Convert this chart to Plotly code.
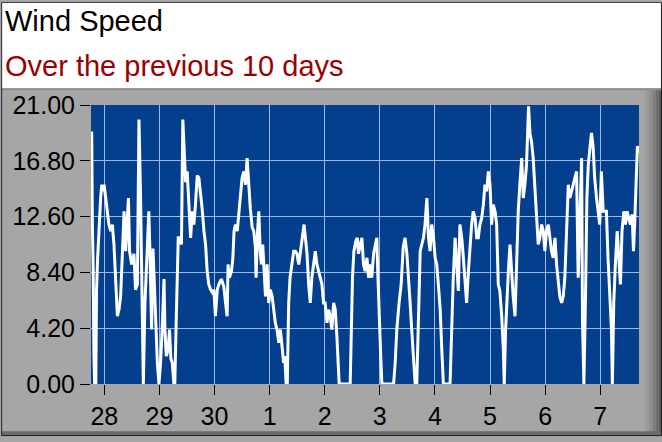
import plotly.graph_objects as go

# ---------------- data ----------------
hours = [
    -5.8, -5.5, -5.2, -4.9, -4.5, -4.2, -3.7, -3.4, -2.9, -2.3, -1.6, -1.1, -0.6, -0.1,
    0.6, 1.3, 2.0, 2.8, 3.5, 4.2, 4.9, 5.7, 6.4, 7.1, 7.8, 8.6, 9.3, 10.5, 11.0, 11.9,
    12.9, 13.6, 14.4, 15.1, 15.8, 16.2, 16.5, 17.0, 17.7, 18.3, 18.9, 19.4, 20.0, 20.6,
    21.2, 21.8, 22.3, 23.1, 23.8, 24.5, 25.2, 26.0, 26.4, 27.0, 27.8, 28.4, 29.0, 29.6,
    30.3, 30.7, 31.3, 31.9, 32.2, 33.1, 33.6, 34.2, 34.8, 35.4, 36.1, 36.8, 37.6, 38.3,
    39.0, 39.7, 40.5, 41.2, 41.9, 42.6, 43.4, 44.1, 44.8, 45.5, 46.3, 47.0, 47.7, 48.4,
    49.2, 49.9, 51.0, 52.1, 52.8, 53.5, 53.9, 54.5, 55.4, 56.0, 56.5, 57.1, 57.9, 58.6,
    59.3, 60.0, 60.8, 61.5, 62.2, 62.9, 63.6, 64.4, 65.1, 65.8, 66.1, 66.7, 67.3, 67.9,
    68.4, 69.0, 69.6, 70.2, 70.9, 71.6, 72.3, 73.1, 73.8, 74.5, 75.2, 76.0, 76.7, 77.4,
    78.1, 78.6, 79.2, 79.7, 80.3, 80.9, 81.8, 82.5, 83.2, 83.9, 84.7, 85.4, 86.4, 87.0,
    87.6, 88.3, 89.0, 89.7, 90.4, 91.2, 91.9, 92.6, 93.3, 94.1, 94.8, 95.5, 96.2, 97.0,
    97.7, 98.4, 99.1, 99.9, 100.6, 101.3, 101.8, 102.3, 107.1, 107.6, 108.1, 108.7,
    109.6, 110.2, 110.7, 111.5, 112.2, 112.9, 113.6, 114.4, 115.1, 115.8, 116.5, 117.3,
    118.0, 118.7, 119.1, 119.7, 120.3, 120.9, 126.0, 126.7, 127.4, 128.4, 129.3, 130.2,
    131.0, 131.8, 132.5, 133.2, 133.9, 134.7, 135.4, 136.1, 136.8, 137.6, 138.3, 139.0,
    139.7, 140.5, 141.2, 141.9, 142.6, 143.4, 144.1, 144.8, 145.5, 146.3, 147.0, 147.7,
    150.6, 151.0, 151.6, 152.0, 152.8, 153.5, 154.2, 154.9, 155.7, 156.4, 157.1, 157.8,
    158.6, 159.3, 160.0, 160.7, 161.5, 162.2, 162.9, 163.6, 164.4, 165.1, 165.8, 166.5,
    167.3, 168.0, 168.7, 169.4, 170.2, 170.9, 171.6, 172.3, 173.1, 173.8, 174.2, 174.8,
    175.4, 176.0, 176.7, 177.4, 178.1, 178.9, 179.6, 180.3, 181.0, 181.8, 182.5, 183.2,
    183.9, 184.3, 184.8, 185.4, 186.1, 186.8, 187.6, 188.3, 189.0, 189.7, 190.5, 191.2,
    191.9, 192.6, 193.4, 194.1, 194.8, 195.5, 196.3, 197.0, 197.7, 198.4, 199.2, 199.9,
    200.6, 201.3, 202.1, 202.8, 203.5, 204.2, 205.0, 205.7, 206.4, 207.1, 207.9, 208.3,
    208.9, 209.6, 210.2, 210.8, 211.5, 212.2, 212.9, 213.6, 214.4, 215.1, 215.8, 216.5,
    217.3, 218.0, 218.7, 219.4, 220.2, 220.9, 221.3, 221.9, 222.6, 223.4, 224.1, 224.8,
    225.5, 226.3, 227.0, 227.7, 228.4, 229.2, 229.9, 230.5, 231.0, 231.8, 232.2, 232.9,
]
wind_speed = [
    17.0, 19.0, 12.0, 9.3, 2.0, 0.0, 0.0, 7.0, 9.5, 12.0, 14.0, 15.0, 14.5, 15.0,
    14.0, 12.75, 12.0, 11.5, 12.0, 10.5, 8.0, 5.1, 5.6, 6.6, 9.5, 13.0, 10.0, 14.0, 10.0, 9.0,
    9.8, 7.1, 7.5, 19.9, 14.0, 9.0, 3.1, 0.0, 6.1, 8.5, 10.8, 13.0, 9.0, 4.1,
    10.2, 7.5, 5.6, 1.6, 0.0, 1.6, 4.1, 7.9, 4.1, 2.1, 2.6, 4.1, 1.9, 1.6,
    0.0, 0.0, 4.6, 8.5, 11.0, 11.0, 10.5, 19.9, 17.0, 15.2, 16.0, 13.2, 11.0, 13.0,
    12.0, 13.5, 15.7, 15.5, 14.0, 13.2, 11.5, 10.5, 8.5, 7.5, 7.1, 6.9, 7.1, 5.1,
    7.1, 7.5, 7.9, 7.3, 6.1, 5.1, 9.0, 8.0, 8.5, 9.5, 11.5, 12.0, 11.5, 13.0,
    14.5, 15.5, 16.0, 15.0, 17.0, 15.0, 13.2, 11.8, 11.5, 10.3, 8.0, 11.3, 13.0, 10.0,
    9.0, 10.5, 8.5, 6.6, 9.0, 6.1, 7.1, 6.6, 5.6, 4.6, 4.1, 3.1, 4.1, 2.6,
    1.6, 2.1, 0.0, 0.0, 6.1, 8.0, 9.3, 10.0, 10.0, 9.8, 9.0, 10.0, 11.0, 12.0,
    11.0, 9.8, 7.5, 6.1, 8.0, 9.0, 10.0, 9.0, 8.5, 8.0, 7.5, 6.1, 6.1, 4.6,
    5.6, 5.1, 4.1, 6.1, 5.6, 3.6, 1.6, 0.0, 0.0, 4.1, 8.0, 10.0,
    10.8, 11.0, 9.8, 10.5, 11.0, 9.0, 8.5, 9.5, 8.0, 9.0, 8.0, 9.8,
    10.5, 11.0, 8.5, 6.1, 2.6, 0.0, 0.0, 1.6, 4.1, 6.1, 7.5, 10.3,
    11.0, 9.8, 7.5, 6.1, 4.1, 2.1, 0.0, 0.0, 4.6, 10.0, 10.5, 11.0,
    12.0, 14.0, 11.0, 10.0, 12.0, 11.0, 9.5, 9.0, 7.5, 5.6, 2.6, 0.0,
    0.0, 2.6, 5.1, 8.0, 11.0, 8.5, 7.0, 12.0, 11.0, 9.5, 8.0, 6.1,
    8.5, 10.5, 12.0, 13.0, 12.5, 11.0, 11.0, 12.0, 12.5, 13.5, 15.0, 14.5,
    16.0, 15.0, 12.0, 13.5, 13.0, 12.0, 7.5, 7.0, 5.1, 2.6, 0.0, 4.1,
    6.6, 8.5, 10.5, 8.0, 6.6, 5.1, 9.5, 13.0, 15.0, 17.0, 14.0, 15.0,
    16.5, 18.4, 20.9, 18.9, 18.2, 17.0, 14.5, 12.0, 10.5, 11.0, 12.0, 11.5,
    10.0, 11.5, 12.0, 11.0, 10.0, 9.5, 11.0, 9.0, 7.5, 6.6, 6.1, 6.6,
    8.0, 11.0, 15.0, 14.0, 14.5, 15.0, 15.5, 16.0, 8.0, 12.0, 17.0, 4.6,
    0.0, 6.6, 14.0, 16.5, 17.9, 18.9, 17.9, 15.5, 14.0, 13.0, 12.0, 16.0,
    13.0, 13.0, 13.0, 9.5, 7.0, 4.1, 0.0, 6.1, 9.0, 11.5, 9.5, 7.5,
    11.5, 13.0, 12.0, 13.0, 12.5, 12.0, 12.75, 10.0, 12.0, 15.5, 17.9, 17.4,
]

day_tick_hours = [0, 24, 48, 72, 96, 120, 144, 168, 192, 216]
day_tick_labels = ["28", "29", "30", "1", "2", "3", "4", "5", "6", "7"]
y_tick_values = [0.0, 4.2, 8.4, 12.6, 16.8, 21.0]
y_tick_labels = ["0.00", "4.20", "8.40", "12.60", "16.80", "21.00"]

title_text = "Wind Speed"
subtitle_text = "Over the previous 10 days"

# ---------------- layout geometry ----------------
W, H = 662, 442
ML, MR, MT, MB = 90, 23, 105, 53
PW, PH = W - ML - MR, H - MT - MB


def fx(px):
    return (px - ML) / PW


def fy(py):
    return (H - MB - py) / PH


FONT = "Liberation Sans, Arial, sans-serif"
PANEL = "#A6A6A6"

fig = go.Figure()
fig.add_trace(go.Scatter(
    x=hours, y=wind_speed, mode="lines",
    line=dict(color="white", width=3),
    hoverinfo="skip", showlegend=False,
))

shapes = []
shapes.append(dict(type="rect", xref="paper", yref="paper",
                   x0=fx(0), x1=fx(W), y0=fy(88), y1=fy(0),
                   fillcolor="white", line=dict(width=0), layer="below"))
shapes.append(dict(type="rect", xref="paper", yref="paper",
                   x0=fx(0), x1=fx(W), y0=fy(90), y1=fy(88),
                   fillcolor="#8E8E8E", line=dict(width=0), layer="below"))
grad = ["#A0A0A0", "#979797", "#8C8C8C", "#7E7E7E", "#6E6E6E", "#5C5C5C"]
for i, c in enumerate(grad):
    shapes.append(dict(type="rect", xref="paper", yref="paper",
                       x0=fx(644 + i * 3), x1=fx(647 + i * 3), y0=fy(H), y1=fy(90),
                       fillcolor=c, line=dict(width=0), layer="below"))
shapes.append(dict(type="rect", xref="paper", yref="paper",
                   x0=fx(0), x1=fx(W), y0=fy(H), y1=fy(437),
                   fillcolor="#6A6A6A", line=dict(width=0), layer="below"))
shapes.append(dict(type="rect", xref="paper", yref="paper",
                   x0=fx(0.5), x1=fx(W - 0.5), y0=fy(H - 0.5), y1=fy(0.5),
                   fillcolor="rgba(0,0,0,0)", line=dict(color="#202020", width=1),
                   layer="below"))

annotations = [
    dict(text=title_text, xref="paper", yref="paper", x=fx(2), y=fy(20),
         xanchor="left", yanchor="middle", showarrow=False,
         font=dict(family=FONT, size=29, color="black")),
    dict(text=subtitle_text, xref="paper", yref="paper", x=fx(2), y=fy(65),
         xanchor="left", yanchor="middle", showarrow=False,
         font=dict(family=FONT, size=29, color="#990000")),
]

fig.update_layout(
    width=W, height=H,
    margin=dict(l=ML, r=MR, t=MT, b=MB, pad=0),
    paper_bgcolor=PANEL,
    plot_bgcolor="#033F8C",
    shapes=shapes,
    annotations=annotations,
    font=dict(family=FONT, size=25, color="black"),
    xaxis=dict(
        range=[-5.8, 232.9], tickmode="array",
        tickvals=day_tick_hours, ticktext=day_tick_labels,
        showgrid=True, gridcolor="#9DB9EC", gridwidth=1,
        zeroline=False, showline=False,
        ticks="outside", ticklen=10, tickcolor="black", tickwidth=1,
        tickfont=dict(family=FONT, size=25, color="black"),
        fixedrange=True,
    ),
    yaxis=dict(
        range=[0, 21], tickmode="array",
        tickvals=y_tick_values, ticktext=y_tick_labels,
        showgrid=True, gridcolor="#9DB9EC", gridwidth=1,
        zeroline=False, showline=False,
        ticks="outside", ticklen=10, tickcolor="black", tickwidth=1,
        tickfont=dict(family=FONT, size=25, color="black"),
        fixedrange=True,
    ),
)

fig.write_html("out.html", config={"displayModeBar": False})
